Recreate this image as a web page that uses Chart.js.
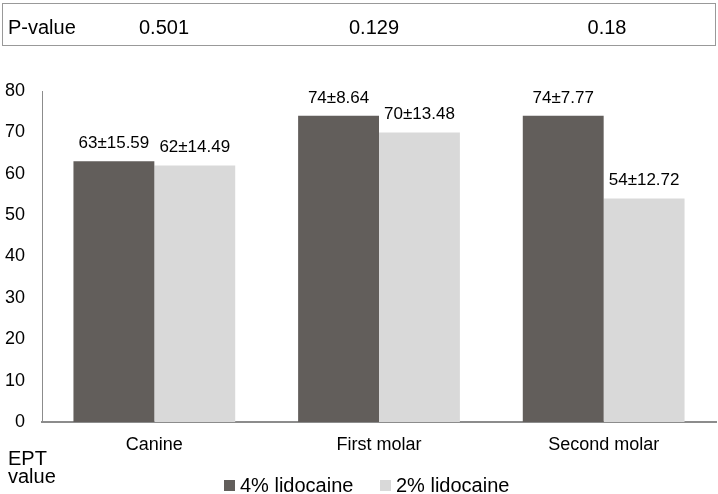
<!DOCTYPE html>
<html>
<head>
<meta charset="utf-8">
<script src="https://cdn.jsdelivr.net/npm/chart.js@4.4.1/dist/chart.umd.min.js"></script>
<style>
  html, body { margin: 0; padding: 0; background: #fff; }
  body { width: 718px; height: 494px; position: relative; overflow: hidden; font-family: "Liberation Sans", Arial, sans-serif; }
  #wrap { position: absolute; left: 0; top: 0; width: 718px; height: 494px; }
  #ptable { position: absolute; left: 2px; top: 3px; width: 712px; height: 41px; border: 1px solid #999; }
  .pt { position: absolute; top: 11px; font-size: 20px; line-height: 24px; color: #000; white-space: nowrap; }
  #ept { position: absolute; left: 8px; top: 449px; font-size: 20px; line-height: 18px; color: #000; }
  .lg { position: absolute; top: 474px; font-size: 20px; line-height: 22px; color: #000; white-space: nowrap; }
  .sw { position: absolute; top: 480px; width: 11px; height: 11px; }
</style>
</head>
<body>
<div id="wrap"><canvas id="c" width="718" height="494"></canvas></div>
<div id="ptable"></div>
<div id="ept">EPT<br>value</div>
<div id="legend"></div>
<script>
const categories = ["Canine", "First molar", "Second molar"];
const seriesNames = ["4% lidocaine", "2% lidocaine"];
const seriesColors = ["#625e5b", "#d9d9d9"];
const lido4 = [63, 74, 74];
const lido2 = [62, 70, 54];
const lido4Labels = ["63±15.59", "74±8.64", "74±7.77"];
const lido2Labels = ["62±14.49", "70±13.48", "54±12.72"];
const pLabel = "P-value";
const pValues = ["0.501", "0.129", "0.18"];
const yTicks = [0, 10, 20, 30, 40, 50, 60, 70, 80];

// P-value row
const pt = document.getElementById('ptable');
const pCenters = [161, 371, 604];
(function(){
  const l = document.createElement('div');
  l.className = 'pt'; l.style.left = '5px'; l.textContent = pLabel; pt.appendChild(l);
  pValues.forEach((v, i) => {
    const d = document.createElement('div');
    d.className = 'pt'; d.textContent = v;
    d.style.left = pCenters[i] + 'px';
    d.style.transform = 'translateX(-50%)';
    pt.appendChild(d);
  });
})();

// Legend
(function(){
  const lg = document.getElementById('legend');
  const swX = [224, 380];
  seriesNames.forEach((n, i) => {
    const s = document.createElement('div');
    s.className = 'sw'; s.style.left = swX[i] + 'px'; s.style.background = seriesColors[i];
    lg.appendChild(s);
    const t = document.createElement('div');
    t.className = 'lg'; t.style.left = (swX[i] + 16) + 'px'; t.textContent = n;
    lg.appendChild(t);
  });
})();

const valueLabels = [lido4Labels, lido2Labels];
const labelPlugin = {
  id: 'barLabels',
  afterDatasetsDraw(chart) {
    const ctx = chart.ctx;
    ctx.save();
    ctx.font = '17px "Liberation Sans", Arial, sans-serif';
    ctx.fillStyle = '#000';
    ctx.textAlign = 'center';
    ctx.textBaseline = 'middle';
    chart.data.datasets.forEach((ds, di) => {
      const meta = chart.getDatasetMeta(di);
      meta.data.forEach((bar, i) => {
        ctx.fillText(valueLabels[di][i], bar.x, bar.y - 18);
      });
    });
    ctx.restore();
  }
};

new Chart(document.getElementById('c'), {
  type: 'bar',
  data: {
    labels: categories,
    datasets: [
      { label: seriesNames[0], data: lido4, backgroundColor: seriesColors[0], borderWidth: 0 },
      { label: seriesNames[1], data: lido2, backgroundColor: seriesColors[1], borderWidth: 0 }
    ]
  },
  options: {
    responsive: false,
    animation: false,
    devicePixelRatio: 1,
    layout: { padding: { top: 91, right: 2, left: 0, bottom: 32 } },
    datasets: { bar: { barPercentage: 1.0, categoryPercentage: 0.72 } },
    plugins: {
      tooltip: { enabled: false },
      legend: { display: false }
    },
    scales: {
      x: {
        grid: { display: false, drawTicks: false },
        border: { display: true, color: '#8c8c8c', width: 2 },
        ticks: { color: '#000', padding: 12, font: { size: 18, family: '"Liberation Sans", Arial, sans-serif' } },
        afterFit(scale) { scale.height = 40; }
      },
      y: {
        min: 0, max: 80,
        afterBuildTicks(scale) { scale.ticks = yTicks.map(v => ({ value: v })); },
        grid: { display: false, drawTicks: false },
        border: { display: true, color: '#8c8c8c', width: 1 },
        ticks: { color: '#000', padding: 17, font: { size: 18, family: '"Liberation Sans", Arial, sans-serif' } },
        afterFit(scale) { scale.width = 42; }
      }
    }
  },
  plugins: [labelPlugin]
});
</script>
</body>
</html>
